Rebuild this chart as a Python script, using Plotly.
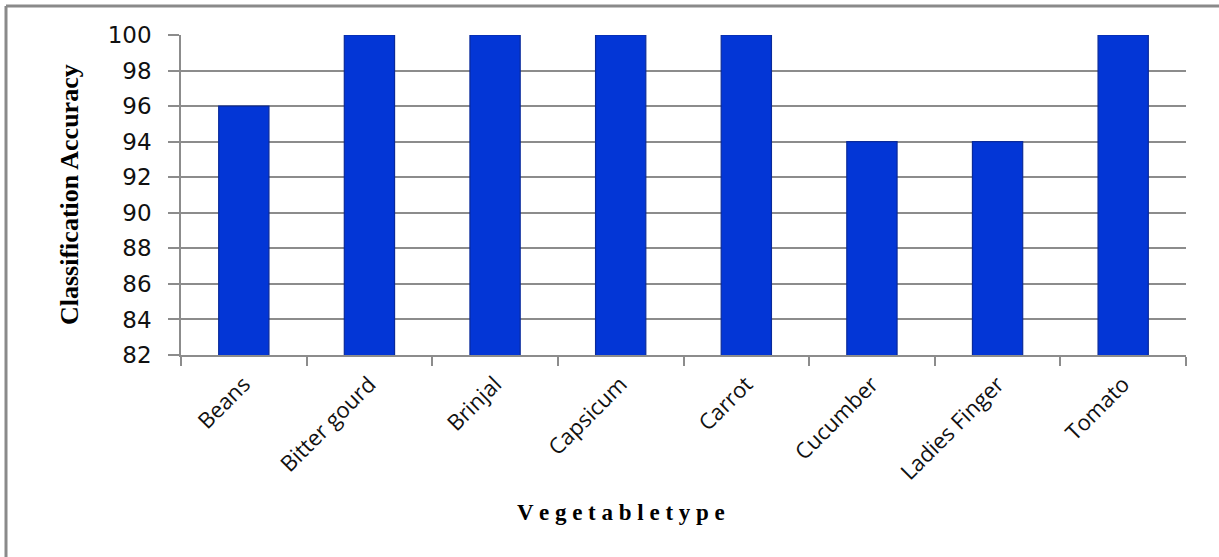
import plotly.graph_objects as go

categories = ["Beans", "Bitter gourd", "Brinjal", "Capsicum", "Carrot",
              "Cucumber", "Ladies Finger", "Tomato"]
accuracy = [96, 100, 100, 100, 100, 94, 94, 100]
y_ticks = [82, 84, 86, 88, 90, 92, 94, 96, 98, 100]

W, H = 1219, 557
L, R, T, B = 181, 33, 35, 202
pw, ph = W - L - R, H - T - B

fig = go.Figure()
fig.add_trace(go.Bar(
    x=categories, y=accuracy, base=0,
    width=0.4,
    marker=dict(color="#0336D6", line=dict(color="#0A2A9A", width=1.2)),
))

fig.update_layout(
    width=W, height=H,
    margin=dict(l=L, r=R, t=T, b=B, autoexpand=False),
    paper_bgcolor="white", plot_bgcolor="white",
    showlegend=False,
    bargap=0.6,
    xaxis=dict(
        type="category",
        tickson="boundaries",
        ticks="outside", ticklen=9, tickcolor="#8c8c8c", tickwidth=1.5,
        showline=True, linecolor="#8c8c8c", linewidth=1.5,
        showgrid=False,
        tickangle=-45,
        ticklabelstandoff=6,
        tickfont=dict(family="Open Sans, Lato, sans-serif", size=22, color="#111"),
    ),
    yaxis=dict(
        range=[82, 100],
        tickvals=y_ticks,
        ticks="outside", ticklen=11, tickcolor="#8c8c8c", tickwidth=1.5,
        showline=True, linecolor="#8c8c8c", linewidth=1.5,
        showgrid=True, gridcolor="#8c8c8c", gridwidth=1.5,
        ticklabelstandoff=12,
        tickfont=dict(family="DejaVu Sans, Verdana, sans-serif", size=23, color="#111"),
    ),
    annotations=[
        dict(text="<b>V e g e t a b l e t y p e</b>",
             xref="paper", yref="paper",
             x=(621 - L) / pw, y=-(512 - T - ph) / ph,
             xanchor="center", yanchor="middle", showarrow=False,
             font=dict(family="Liberation Serif, Times New Roman, serif",
                       size=23, color="black")),
        dict(text="<b>Classification Accuracy</b>",
             xref="paper", yref="paper",
             x=(69 - L) / pw, y=0.5, textangle=-90,
             xanchor="center", yanchor="middle", showarrow=False,
             font=dict(family="Liberation Serif, Times New Roman, serif",
                       size=26, color="black")),
    ],
)

# outer chart border (top and left sides visible)
bx = (6 - L) / pw
by = 1 + (T - 6) / ph
byb = -(H - 1 - T - ph) / ph - 0.01
fig.add_shape(type="line", xref="paper", yref="paper", x0=bx, x1=(W - L) / pw + 0.01,
              y0=by, y1=by, line=dict(color="#8a8a8a", width=3))
fig.add_shape(type="line", xref="paper", yref="paper", x0=bx, x1=bx,
              y0=by, y1=byb, line=dict(color="#8a8a8a", width=3))

fig.write_html("out.html")
